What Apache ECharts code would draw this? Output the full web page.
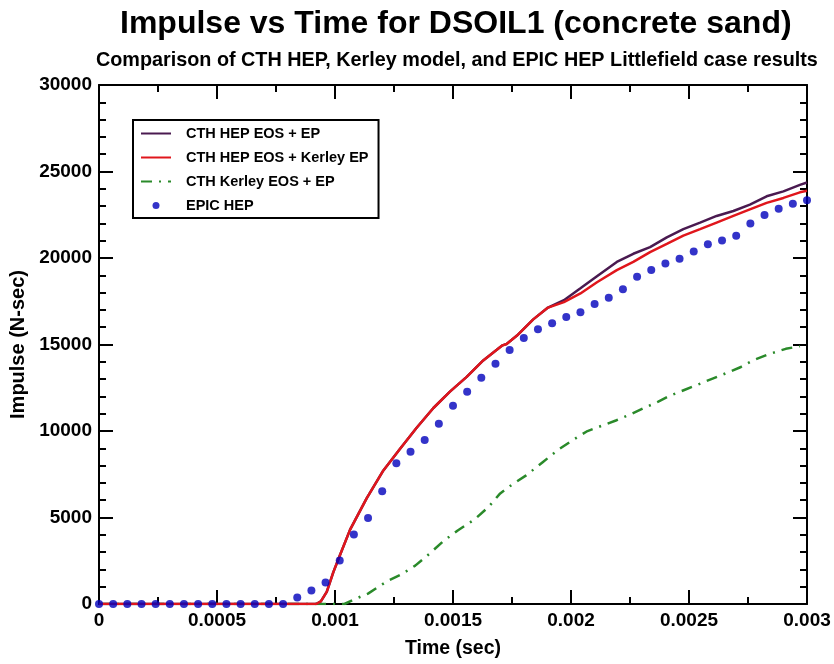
<!DOCTYPE html>
<html>
<head>
<meta charset="utf-8">
<script src="https://cdn.jsdelivr.net/npm/echarts@6/dist/echarts.min.js"></script>
<style>
html,body{margin:0;padding:0;background:#fff;}
#chart{width:834px;height:664px;}
</style>
</head>
<body>
<div id="chart"></div>
<script>
// ---- data ----
var xTickLabels = ['0', '0.0005', '0.001', '0.0015', '0.002', '0.0025', '0.003'];
var yTickLabels = ['0', '5000', '10000', '15000', '20000', '25000', '30000'];
var seriesNames = ['CTH HEP EOS + EP', 'CTH HEP EOS + Kerley EP', 'CTH Kerley EOS + EP', 'EPIC HEP'];

var cthEpTime = [0, 0.00092, 0.00094, 0.000965, 0.000993, 0.00102, 0.001064, 0.001134, 0.001205, 0.001275, 0.001346, 0.001417, 0.001487, 0.001558, 0.001628, 0.001699, 0.00171, 0.001727, 0.00177, 0.00184, 0.0019, 0.00197, 0.00204, 0.00211, 0.002194, 0.002264, 0.002335, 0.002406, 0.002476, 0.002547, 0.002617, 0.002688, 0.002758, 0.002829, 0.0029, 0.00297, 0.003];
var cthEpImpulse = [0, 0, 150, 700, 1840, 2790, 4300, 6108, 7720, 8955, 10190, 11330, 12274, 13128, 14079, 14836, 14950, 15030, 15500, 16453, 17113, 17560, 18250, 18950, 19772, 20244, 20626, 21195, 21667, 22048, 22430, 22715, 23090, 23569, 23854, 24230, 24366];

var cthKerleyEpTime = [0, 0.00092, 0.00094, 0.000965, 0.000993, 0.00102, 0.001064, 0.001134, 0.001205, 0.001275, 0.001346, 0.001417, 0.001487, 0.001558, 0.001628, 0.001699, 0.00171, 0.001727, 0.00177, 0.00184, 0.0019, 0.00197, 0.00204, 0.00211, 0.002194, 0.002264, 0.002335, 0.002406, 0.002476, 0.002547, 0.002617, 0.002688, 0.002758, 0.002829, 0.0029, 0.00297, 0.003];
var cthKerleyEpImpulse = [0, 0, 150, 700, 1840, 2790, 4300, 6108, 7720, 8955, 10190, 11330, 12274, 13128, 14079, 14836, 14950, 15030, 15500, 16453, 17113, 17450, 17950, 18600, 19299, 19772, 20341, 20814, 21292, 21667, 22048, 22430, 22807, 23187, 23472, 23797, 23888];

var kerleyEosTime = [0, 0.00104, 0.00108, 0.00114, 0.00122, 0.00128, 0.00134, 0.0014, 0.00146, 0.00152, 0.00159, 0.00165, 0.0017, 0.00175, 0.00181, 0.00188, 0.00195, 0.00201, 0.00207, 0.00213, 0.00219, 0.00225, 0.00231, 0.00237, 0.00242, 0.00248, 0.00254, 0.0026, 0.00266, 0.00272, 0.00277, 0.00283, 0.00291, 0.00297];
var kerleyEosImpulse = [0, 0, 262, 600, 1310, 1700, 2220, 2900, 3643, 4250, 4873, 5600, 6393, 6900, 7435, 8198, 8955, 9500, 9997, 10300, 10606, 10950, 11330, 11700, 12046, 12370, 12695, 13030, 13356, 13700, 14079, 14400, 14750, 14900];

var epicTime = [0, 0.00006, 0.00012, 0.00018, 0.00024, 0.0003, 0.00036, 0.00042, 0.00048, 0.00054, 0.0006, 0.00066, 0.00072, 0.00078, 0.00084, 0.0009, 0.00096, 0.00102, 0.00108, 0.00114, 0.0012, 0.00126, 0.00132, 0.00138, 0.00144, 0.0015, 0.00156, 0.00162, 0.00168, 0.00174, 0.0018, 0.00186, 0.00192, 0.00198, 0.00204, 0.0021, 0.00216, 0.00222, 0.00228, 0.00234, 0.0024, 0.00246, 0.00252, 0.00258, 0.00264, 0.0027, 0.00276, 0.00282, 0.00288, 0.00294, 0.003];
var epicImpulse = [0, 0, 0, 0, 0, 0, 0, 0, 0, 0, 0, 0, 0, 0, 376, 775, 1250, 2520, 4019, 4970, 6524, 8141, 8801, 9484, 10418, 11460, 12274, 13071, 13891, 14688, 15371, 15883, 16225, 16583, 16868, 17341, 17700, 18200, 18918, 19310, 19675, 19960, 20381, 20797, 21007, 21292, 21992, 22487, 22846, 23130, 23341];

function pairs(xs, ys) { return xs.map(function (x, i) { return [x, ys[i]]; }); }

var FONT = 'Liberation Sans';
var PURPLE = '#4a1a50', RED = '#e0161c', GREEN = '#2a8a2a', BLUE = '#0000bb';
var chart = echarts.init(document.getElementById('chart'), null, {renderer: 'canvas'});

function axisBase(extra) {
  var base = {
    axisLine: {show: true, onZero: false, lineStyle: {color: '#000', width: 2}},
    axisTick: {show: true, inside: true, length: 14, lineStyle: {color: '#000', width: 2}},
    splitLine: {show: false}
  };
  return Object.assign(base, extra);
}

var option = {
  backgroundColor: '#fff',
  animation: false,
  title: [
    {text: 'Impulse vs Time for DSOIL1 (concrete sand)', left: 115, top: 3,
     textStyle: {fontFamily: FONT, fontWeight: 'bold', fontSize: 32, color: '#000'}},
    {text: 'Comparison of CTH HEP, Kerley model, and EPIC HEP Littlefield case results', left: 91, top: 46,
     textStyle: {fontFamily: FONT, fontWeight: 'bold', fontSize: 19.8, color: '#000'}}
  ],
  grid: {left: 99, right: 27, top: 85, bottom: 52, containLabel: false},
  legend: {
    orient: 'vertical', left: 133, top: 120,
    padding: [6, 10, 5, 7], itemGap: 9, itemWidth: 30, itemHeight: 14,
    borderColor: '#000', borderWidth: 2, backgroundColor: '#fff',
    textStyle: {fontFamily: FONT, fontWeight: 'bold', fontSize: 14.5, color: '#000', padding: [0, 0, 0, 10]},
    data: [
      {name: seriesNames[0], itemStyle: {opacity: 0}},
      {name: seriesNames[1], itemStyle: {opacity: 0}},
      {name: seriesNames[2], itemStyle: {opacity: 0}},
      {name: seriesNames[3], icon: 'path://M0,0 M30,14 M11.5,7 a3.5,3.5 0 1,0 7,0 a3.5,3.5 0 1,0 -7,0 Z', itemStyle: {color: BLUE}}
    ]
  },
  xAxis: [
    axisBase({
      type: 'value', position: 'bottom', min: 0, max: 0.003, interval: 0.0005,
      minorTick: {show: true, splitNumber: 2, length: 7, lineStyle: {color: '#000', width: 2}},
      name: 'Time (sec)', nameLocation: 'middle', nameGap: 35,
      nameTextStyle: {fontFamily: FONT, fontWeight: 'bold', fontSize: 19.5, color: '#000'},
      axisLabel: {fontFamily: FONT, fontWeight: 'bold', fontSize: 19, color: '#000', margin: 7,
        formatter: function (v) { return xTickLabels[Math.round(v / 0.0005)]; }}
    }),
    axisBase({
      type: 'value', position: 'top', min: 0, max: 0.003, interval: 0.0005,
      minorTick: {show: true, splitNumber: 2, length: 7, lineStyle: {color: '#000', width: 2}},
      axisLabel: {show: false}
    })
  ],
  yAxis: [
    axisBase({
      type: 'value', position: 'left', min: 0, max: 30000, interval: 5000,
      minorTick: {show: true, splitNumber: 5, length: 7, lineStyle: {color: '#000', width: 2}},
      name: 'Impulse (N-sec)', nameLocation: 'middle', nameGap: 68, nameRotate: 90,
      nameTextStyle: {fontFamily: FONT, fontWeight: 'bold', fontSize: 20, color: '#000'},
      axisLabel: {fontFamily: FONT, fontWeight: 'bold', fontSize: 19, color: '#000', margin: 7,
        formatter: function (v) { return yTickLabels[Math.round(v / 5000)]; }}
    }),
    axisBase({
      type: 'value', position: 'right', min: 0, max: 30000, interval: 5000,
      minorTick: {show: true, splitNumber: 5, length: 7, lineStyle: {color: '#000', width: 2}},
      axisLabel: {show: false}
    })
  ],
  series: [
    {name: seriesNames[2], type: 'line', data: pairs(kerleyEosTime, kerleyEosImpulse), showSymbol: false, symbol: 'none',
     lineStyle: {color: GREEN, width: 2.5, type: [11, 7, 2, 7]}, itemStyle: {color: GREEN}, z: 2},
    {name: seriesNames[0], type: 'line', data: pairs(cthEpTime, cthEpImpulse), showSymbol: false, symbol: 'none',
     lineStyle: {color: PURPLE, width: 2.5}, itemStyle: {color: PURPLE}, z: 3},
    {name: seriesNames[1], type: 'line', data: pairs(cthKerleyEpTime, cthKerleyEpImpulse), showSymbol: false, symbol: 'none',
     lineStyle: {color: RED, width: 2.5}, itemStyle: {color: RED}, z: 4},
    {name: seriesNames[3], type: 'scatter', data: pairs(epicTime, epicImpulse), symbol: 'circle', symbolSize: 8,
     itemStyle: {color: BLUE}, z: 5}
  ]
};
chart.setOption(option);
</script>
</body>
</html>
